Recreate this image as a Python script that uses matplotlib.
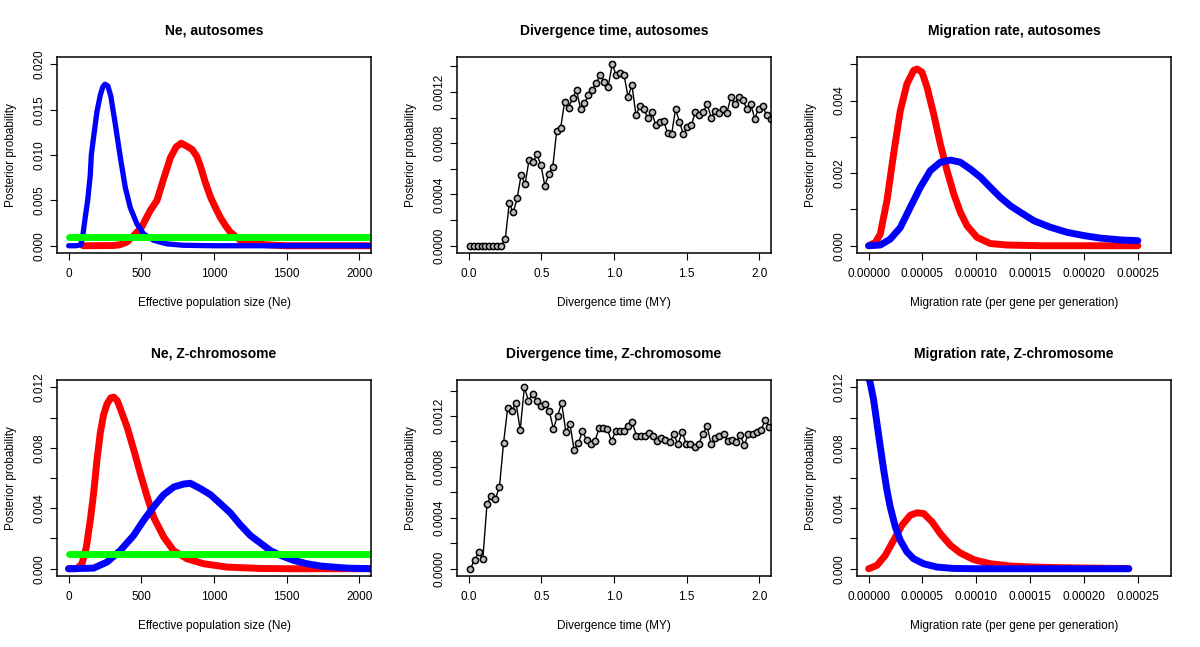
import numpy as np
import matplotlib
matplotlib.use("Agg")
import matplotlib.pyplot as plt

plt.rcParams["font.family"] = ["Liberation Sans", "DejaVu Sans"]

# ---- Ne, autosomes ----
ne_a_blue_x = [0, 50, 85, 99, 115, 131, 149, 156, 172, 195, 218, 235, 250, 270, 290, 321, 355, 390, 424,
               470, 516, 585, 677, 791, 1000, 1500, 2100]
ne_a_blue_y = [0, 0, 0.0001, 0.0013, 0.0032, 0.0050, 0.0078, 0.0100, 0.0120, 0.0148, 0.0166, 0.0175,
               0.0178, 0.0176, 0.0165, 0.0134, 0.0098, 0.0064, 0.0042, 0.0024, 0.0013, 0.0006, 0.0002,
               0.00005, 0, 0, 0]
ne_a_red_x = [100, 300, 350, 400, 447, 500, 562, 608, 650, 700, 740, 775, 810, 850, 883, 906, 940, 975,
              1010, 1044, 1080, 1112, 1181, 1273, 1365, 1500, 2100]
ne_a_red_y = [0, 0.00002, 0.0001, 0.0004, 0.0011, 0.0020, 0.0039, 0.0050, 0.0072, 0.0097, 0.0109,
              0.0113, 0.0110, 0.0106, 0.0098, 0.0088, 0.0070, 0.0054, 0.0042, 0.0031, 0.0022, 0.0015,
              0.0006, 0.00025, 0.0001, 0, 0]
ne_a_green_x = [0, 500, 1000, 1500, 2000, 2100]
ne_a_green_y = [0.001, 0.001, 0.001, 0.001, 0.001, 0.001]

# ---- Ne, Z-chromosome ----
ne_z_red_x = [0, 57, 92, 122, 149, 172, 195, 218, 241, 264, 290, 310, 335, 355, 401, 447, 493, 539, 585,
              654, 722, 814, 929, 1089, 1319, 1500, 2100]
ne_z_red_y = [0, 0, 0.00033, 0.00144, 0.0032, 0.0050, 0.0072, 0.0090, 0.0102, 0.0109, 0.0113, 0.01135,
              0.0111, 0.0106, 0.0094, 0.0079, 0.0063, 0.0048, 0.0034, 0.0021, 0.0012, 0.00066, 0.00033,
              0.00011, 0.00002, 0, 0]
ne_z_blue_x = [0, 172, 264, 355, 447, 516, 585, 654, 722, 791, 837, 906, 975, 1044, 1112, 1181, 1250,
               1319, 1388, 1456, 1548, 1640, 1732, 1823, 1915, 2100]
ne_z_blue_y = [0, 0.00004, 0.00044, 0.0012, 0.0022, 0.0032, 0.0041, 0.0049, 0.0054, 0.0056, 0.00565,
               0.0053, 0.0049, 0.0043, 0.0037, 0.0029, 0.0022, 0.0017, 0.0012, 0.00089, 0.00055,
               0.00033, 0.00018, 0.00011, 0.00004, 0]
ne_z_green_x = [0, 500, 1000, 1500, 2000, 2100]
ne_z_green_y = [0.001, 0.001, 0.001, 0.001, 0.001, 0.001]

# ---- Divergence time ----
div_a_x = np.linspace(0.007, 2.077, 77)
div_a_y = [0, 0, 0, 0, 0, 0, 0, 0, 0,
           0.000052, 0.000332, 0.00026, 0.000369, 0.000553, 0.00048, 0.00067, 0.00065, 0.000712,
           0.000629, 0.000468, 0.000561, 0.000618, 0.000899, 0.000922, 0.001125, 0.001078, 0.001153,
           0.001213, 0.00107, 0.001112, 0.001174, 0.001213, 0.001273, 0.001333, 0.00128, 0.001242,
           0.001416,
           0.001333, 0.00135, 0.00133, 0.001164, 0.001252, 0.001018, 0.001091, 0.001065, 0.000997,
           0.001044, 0.00094, 0.000966, 0.000974, 0.000878, 0.000868, 0.001065, 0.000966, 0.000868,
           0.00093, 0.00094, 0.001044, 0.001018, 0.001044, 0.001104, 0.001, 0.001052, 0.001039,
           0.00107, 0.001039, 0.001164, 0.001104, 0.001164, 0.001135, 0.00107, 0.001104, 0.000992,
           0.00107, 0.001091, 0.001018, 0.000992]

div_z_x = np.linspace(0.012, 2.068, 73)
div_z_y = [0, 0.000068, 0.000128, 0.000076, 0.000508, 0.000574, 0.000547, 0.000642, 0.000991,
           0.001266, 0.001242, 0.001305, 0.00109, 0.001426, 0.001321, 0.001373, 0.001321, 0.001282,
           0.001297, 0.001242, 0.001098, 0.001203, 0.0013, 0.001077, 0.001135, 0.000933, 0.000985,
           0.001082, 0.001011, 0.000983, 0.001003, 0.001103, 0.001103, 0.001096, 0.001003, 0.001082,
           0.001082, 0.001082, 0.001124, 0.00115, 0.001046, 0.001046, 0.001046, 0.001064, 0.001046,
           0.001004, 0.00103, 0.001011, 0.000993, 0.001056, 0.000977, 0.001077, 0.00098, 0.00098,
           0.000959, 0.000977, 0.001056, 0.001124, 0.000977, 0.001025, 0.001046, 0.001056, 0.001004,
           0.001011, 0.000993, 0.00105, 0.000972, 0.001061, 0.001056, 0.001072, 0.001088, 0.001166,
           0.001117]

# ---- Migration rate ----
mig_a_red_x = [0, 0.0000062, 0.0000108, 0.000017, 0.0000232, 0.0000294, 0.0000356, 0.0000418,
               0.0000449, 0.0000496, 0.0000542, 0.0000604, 0.0000666, 0.0000728, 0.000079, 0.0000852,
               0.0000914, 0.0001007, 0.000113, 0.0001286, 0.00016, 0.00025]
mig_a_red_y = [0, 0.00009, 0.00032, 0.00124, 0.00253, 0.00372, 0.00446, 0.00483, 0.00487, 0.00478,
               0.00437, 0.00363, 0.0028, 0.00207, 0.00143, 0.00092, 0.00055, 0.00023, 0.00006,
               0.00002, 0, 0]
mig_a_blue_x = [0, 0.0000108, 0.00002, 0.0000294, 0.0000387, 0.000048, 0.0000573, 0.0000666, 0.000076,
                0.0000852, 0.0000945, 0.0001038, 0.000113, 0.0001224, 0.0001317, 0.000141, 0.0001534,
                0.0001688, 0.0001843, 0.0001998, 0.0002153, 0.000234, 0.00025]
mig_a_blue_y = [0, 0.00002, 0.00018, 0.0005, 0.00106, 0.00161, 0.00207, 0.0023, 0.00236, 0.0023,
                0.00211, 0.00189, 0.00161, 0.00133, 0.0011, 0.00092, 0.00069, 0.00051, 0.00037,
                0.00028, 0.00021, 0.00016, 0.00014]

mig_z_red_x = [0, 0.0000077, 0.0000155, 0.0000232, 0.000031, 0.0000387, 0.0000449, 0.0000511,
               0.0000589, 0.0000666, 0.000076, 0.0000852, 0.0000976, 0.000113, 0.0001317, 0.0001534,
               0.0001781, 0.0002091, 0.0002416]
mig_z_red_y = [0, 0.00022, 0.00089, 0.00188, 0.00288, 0.00354, 0.0037, 0.00365, 0.0031, 0.00232,
               0.00155, 0.00104, 0.0006, 0.00033, 0.00018, 0.00011, 0.00007, 0.00004, 0.00001]
mig_z_blue_x = [0, 0.0000015, 0.0000046, 0.0000077, 0.0000108, 0.000014, 0.000017, 0.00002,
                0.0000248, 0.0000294, 0.0000356, 0.0000418, 0.0000511, 0.0000635, 0.000079, 0.000101,
                0.0002416]
mig_z_blue_y = [0.0127, 0.01229, 0.01118, 0.00963, 0.00808, 0.00653, 0.0052, 0.0041, 0.00277, 0.00188,
                0.00111, 0.00066, 0.00033, 0.00011, 0.00002, 0, 0]

RED = "#ff0000"
BLUE = "#0000ff"
GREEN = "#00ff00"


def style_axes(ax, title, xlabel, xticks, xlabels, yticks, ylabels, xlim, ylim):
    ax.set_xlim(*xlim)
    ax.set_ylim(*ylim)
    ax.set_xticks(xticks)
    ax.set_xticklabels(xlabels)
    ax.set_yticks(yticks)
    ax.set_yticklabels(ylabels, rotation=90, va="center")
    ax.tick_params(direction="out", length=5, width=0.8, labelsize=8.5, pad=6)
    ax.tick_params(axis="y", pad=3)
    for sp in ax.spines.values():
        sp.set_linewidth(1.1)
    ax.set_title(title, fontsize=10, fontweight="bold", pad=16)
    ax.set_xlabel(xlabel, fontsize=8.5, labelpad=12)
    ax.set_ylabel("Posterior probability", fontsize=8.5, labelpad=12)


def every_other(vals, fmt):
    return [fmt.format(v) if i % 2 == 0 else "" for i, v in enumerate(vals)]


fig = plt.figure(figsize=(12, 6.47), dpi=100)
lefts = [57 / 1200, 457 / 1200, 857 / 1200]
w = 314 / 1200
bottoms = [1 - 253 / 647, 1 - 576 / 647]
h = 196 / 647
axs = [[fig.add_axes([l, b, w, h]) for l in lefts] for b in bottoms]

ne_ticks = [0, 500, 1000, 1500, 2000]
ne_labels = ["0", "500", "1000", "1500", "2000"]
dt_ticks = [0.0, 0.5, 1.0, 1.5, 2.0]
dt_labels = ["0.0", "0.5", "1.0", "1.5", "2.0"]
mg_ticks = [0, 0.00005, 0.0001, 0.00015, 0.0002, 0.00025]
mg_labels = ["0.00000", "0.00005", "0.00010", "0.00015", "0.00020", "0.00025"]

band = dict(solid_capstyle="round", solid_joinstyle="round")
dots = dict(color="black", lw=1, marker="o", ms=4.5, mfc="#bbbbbb", mec="black", mew=1.1)

# Ne autosomes
ax = axs[0][0]
ax.plot(ne_a_red_x, ne_a_red_y, color=RED, lw=5, **band)
ax.plot(ne_a_blue_x, ne_a_blue_y, color=BLUE, lw=3.8, **band)
ax.plot(ne_a_green_x, ne_a_green_y, color=GREEN, lw=5, **band)
yt = [0, 0.005, 0.01, 0.015, 0.02]
style_axes(ax, "Ne, autosomes", "Effective population size (Ne)", ne_ticks, ne_labels,
           yt, ["{:.3f}".format(v) for v in yt], (-80, 2080), (-0.0008, 0.0208))

# Divergence autosomes
ax = axs[0][1]
ax.plot(div_a_x, div_a_y, **dots)
yt = [0, 0.0002, 0.0004, 0.0006, 0.0008, 0.0010, 0.0012, 0.0014]
style_axes(ax, "Divergence time, autosomes", "Divergence time (MY)", dt_ticks, dt_labels,
           yt, every_other(yt, "{:.4f}"), (-0.08, 2.08), (-0.0000566, 0.0014726))

# Migration autosomes
ax = axs[0][2]
ax.plot(mig_a_red_x, mig_a_red_y, color=RED, lw=5, **band)
ax.plot(mig_a_blue_x, mig_a_blue_y, color=BLUE, lw=5, **band)
yt = [0, 0.001, 0.002, 0.003, 0.004, 0.005]
style_axes(ax, "Migration rate, autosomes", "Migration rate (per gene per generation)", mg_ticks,
           mg_labels, yt, every_other(yt, "{:.3f}"), (-0.0000108, 0.0002808), (-0.0002, 0.0052))

# Ne Z
ax = axs[1][0]
ax.plot(ne_z_red_x, ne_z_red_y, color=RED, lw=5, **band)
ax.plot(ne_z_blue_x, ne_z_blue_y, color=BLUE, lw=5, **band)
ax.plot(ne_z_green_x, ne_z_green_y, color=GREEN, lw=5, **band)
yt = [0, 0.002, 0.004, 0.006, 0.008, 0.010, 0.012]
style_axes(ax, "Ne, Z-chromosome", "Effective population size (Ne)", ne_ticks, ne_labels,
           yt, every_other(yt, "{:.3f}"), (-80, 2080), (-0.00048, 0.01248))

# Divergence Z
ax = axs[1][1]
ax.plot(div_z_x, div_z_y, **dots)
yt = [0, 0.0002, 0.0004, 0.0006, 0.0008, 0.0010, 0.0012, 0.0014]
style_axes(ax, "Divergence time, Z-chromosome", "Divergence time (MY)", dt_ticks, dt_labels,
           yt, every_other(yt, "{:.4f}"), (-0.08, 2.08), (-0.000057, 0.001483))

# Migration Z
ax = axs[1][2]
ax.plot(mig_z_red_x, mig_z_red_y, color=RED, lw=5, **band)
ax.plot(mig_z_blue_x, mig_z_blue_y, color=BLUE, lw=5, **band)
yt = [0, 0.002, 0.004, 0.006, 0.008, 0.010, 0.012]
style_axes(ax, "Migration rate, Z-chromosome", "Migration rate (per gene per generation)", mg_ticks,
           mg_labels, yt, every_other(yt, "{:.3f}"), (-0.0000108, 0.0002808), (-0.00048, 0.01248))

fig.savefig("out.png", dpi=100)
